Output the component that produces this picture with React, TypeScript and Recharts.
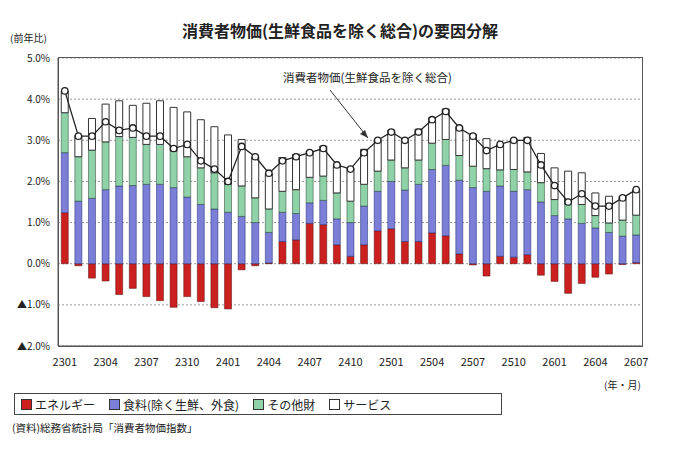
import React from 'react';
import { ComposedChart, Bar, Line, XAxis, YAxis, CartesianGrid } from 'recharts';

const months = ['2301','2302','2303','2304','2305','2306','2307','2308','2309','2310','2311','2312','2401','2402','2403','2404','2405','2406','2407','2408','2409','2410','2411','2412','2501','2502','2503','2504','2505','2506','2507','2508','2509','2510','2511','2512','2601','2602','2603','2604','2605','2606','2607'];
const energy = [1.24,-0.05,-0.35,-0.42,-0.75,-0.6,-0.8,-0.9,-1.06,-0.8,-0.92,-1.07,-1.1,-0.15,-0.05,0.02,0.54,0.58,0.98,0.95,0.46,0.18,0.46,0.8,0.85,0.54,0.54,0.75,0.68,0.24,-0.03,-0.3,0.18,0.16,0.22,-0.28,-0.43,-0.72,-0.48,-0.33,-0.25,-0.02,0.03];
const food = [1.46,1.52,1.59,1.8,1.89,1.9,1.93,1.93,1.85,1.62,1.44,1.33,1.25,1.15,1.0,0.74,0.71,0.64,0.5,0.59,0.63,0.82,0.94,0.96,1.15,1.25,1.39,1.54,1.71,1.79,1.85,1.76,1.71,1.6,1.58,1.5,1.17,1.09,0.98,0.87,0.76,0.67,0.67];
const other = [0.97,1.08,1.17,1.16,1.2,1.17,0.97,0.97,0.89,0.98,0.89,0.88,0.68,0.74,0.6,0.57,0.51,0.58,0.62,0.59,0.63,0.52,0.53,0.49,0.52,0.54,0.59,0.64,0.63,0.6,0.52,0.55,0.39,0.53,0.43,0.47,0.39,0.37,0.46,0.3,0.23,0.39,0.48];
const services = [0.53,0.52,0.77,0.92,0.87,0.78,1.0,1.06,1.06,1.09,1.17,1.12,1.2,1.13,1.0,0.87,0.82,0.86,0.64,0.73,0.69,0.81,0.85,0.77,0.73,0.69,0.75,0.62,0.74,0.7,0.78,0.73,0.62,0.73,0.84,0.71,0.77,0.79,0.77,0.55,0.65,0.58,0.62];
const cpi = [4.2,3.1,3.1,3.45,3.24,3.3,3.1,3.1,2.8,2.9,2.5,2.3,2.0,2.85,2.6,2.2,2.5,2.6,2.7,2.8,2.4,2.3,2.7,3.0,3.2,3.0,3.2,3.5,3.7,3.3,3.1,2.75,2.9,3.0,3.0,2.4,1.9,1.5,1.7,1.4,1.4,1.6,1.8];
const yTicks = [-2, -1, 0, 1, 2, 3, 4, 5];

const data = months.map((m, i) => ({ m, energy: energy[i], food: food[i], other: other[i], services: services[i], cpi: cpi[i] }));

const font = '"Noto Sans CJK JP", "Noto Sans", sans-serif';
const fmtY = (v: number) => (v < 0 ? '▲' + Math.abs(v).toFixed(1) + '%' : v.toFixed(1) + '%');

const Dot = (props: any) => (
  <circle cx={props.cx} cy={props.cy} r={3.2} fill="#fff" stroke="#222" strokeWidth={1.3} />
);

const LegendBox = ({ color, label }: { color: string; label: string }) => (
  <span style={{ display: 'inline-flex', alignItems: 'center', marginRight: 14 }}>
    <span style={{ width: 9, height: 9, background: color, border: '1px solid #333', marginRight: 3 }} />
    {label}
  </span>
);

export default function App() {
  return (
    <div style={{ position: 'absolute', left: 0, top: 0, width: 680, height: 451, background: '#fff', fontFamily: font, color: '#222' }}>
      <div style={{ position: 'absolute', top: 18, width: 680, textAlign: 'center', fontSize: 16, fontWeight: 'bold' }}>
        消費者物価(生鮮食品を除く総合)の要因分解
      </div>
      <div style={{ position: 'absolute', top: 30, left: 10, fontSize: 10 }}>(前年比)</div>
      <ComposedChart width={680} height={451} data={data} stackOffset="sign" barCategoryGap="24%"
        margin={{ top: 58, right: 37, bottom: 75, left: 0 }}>
        <CartesianGrid vertical={false} stroke="#999" strokeDasharray="2 2" />
        <XAxis dataKey="m" interval={2} tickLine={false} axisLine={{ stroke: '#555' }}
          tick={{ fontSize: 11, fill: '#222', fontFamily: font }} tickMargin={6} />
        <YAxis domain={[-2, 5]} ticks={yTicks} tickFormatter={fmtY} width={58} tickLine={false}
          axisLine={{ stroke: '#555' }} tick={{ fontSize: 10, fill: '#222', fontFamily: font }} />
        <Bar dataKey="energy" stackId="a" fill="#cc1f1f" stroke="#5a1010" strokeWidth={0.5} isAnimationActive={false} />
        <Bar dataKey="food" stackId="a" fill="#7b7fd8" stroke="#1d2470" strokeWidth={0.5} isAnimationActive={false} />
        <Bar dataKey="other" stackId="a" fill="#90d2a8" stroke="#1d3d2a" strokeWidth={0.5} isAnimationActive={false} />
        <Bar dataKey="services" stackId="a" fill="#ffffff" stroke="#333" strokeWidth={1} isAnimationActive={false} />
        <Line dataKey="cpi" stroke="#222" strokeWidth={1.3} dot={<Dot />} isAnimationActive={false} />
      </ComposedChart>
      <div style={{ position: 'absolute', left: 58, top: 57, width: 585, height: 290, border: '1px solid #555', boxSizing: 'border-box', pointerEvents: 'none' }} />
      <div style={{ position: 'absolute', left: 283, top: 69, fontSize: 11.5 }}>消費者物価(生鮮食品を除く総合)</div>
      <svg width={680} height={451} style={{ position: 'absolute', left: 0, top: 0, pointerEvents: 'none' }}>
        <line x1={330} y1={90} x2={368} y2={138} stroke="#333" strokeWidth={1} />
        <polygon points="368,138 360,134 365,130" fill="#333" />
      </svg>
      <div style={{ position: 'absolute', left: 604, top: 377, fontSize: 10 }}>(年・月)</div>
      <div style={{ position: 'absolute', left: 14, top: 393, width: 480, height: 20, border: '1px solid #444', display: 'flex', alignItems: 'center', paddingLeft: 6, fontSize: 12 }}>
        <LegendBox color="#cc1f1f" label="エネルギー" />
        <LegendBox color="#7b7fd8" label="食料(除く生鮮、外食)" />
        <LegendBox color="#90d2a8" label="その他財" />
        <LegendBox color="#ffffff" label="サービス" />
      </div>
      <div style={{ position: 'absolute', left: 12, top: 420, fontSize: 10.5 }}>(資料)総務省統計局「消費者物価指数」</div>
    </div>
  );
}
